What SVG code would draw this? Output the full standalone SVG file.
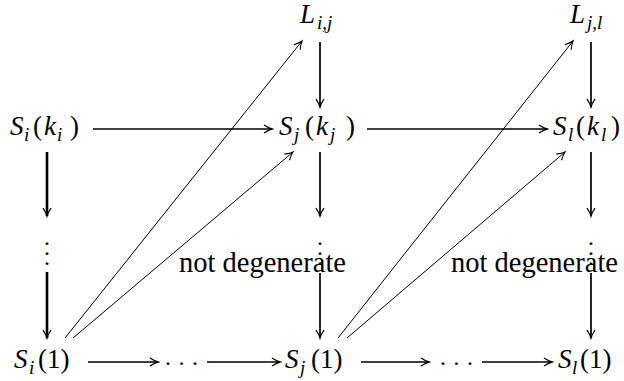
<svg xmlns="http://www.w3.org/2000/svg" width="624" height="381" viewBox="0 0 624 381" font-family="Liberation Serif">
<defs>
<marker id="ah" markerUnits="userSpaceOnUse" viewBox="-10 -6 12 12" markerWidth="12" markerHeight="12" refX="0" refY="0" orient="auto">
<path d="M-8,-4 Q-3,-0.8 0,0 Q-3,0.8 -8,4" stroke="#000" stroke-width="1.3" fill="none"/>
</marker>
<marker id="ahd" markerUnits="userSpaceOnUse" viewBox="-10 -6 12 12" markerWidth="12" markerHeight="12" refX="0" refY="0" orient="auto">
<path d="M-8,-4 Q-3,-0.8 0,0 Q-3,0.8 -8,4" stroke="#000" stroke-width="1.1" fill="none"/>
</marker>
</defs>
<g id="connectors" stroke="#000" fill="none">
<g stroke-width="2.6" marker-end="url(#ah)">
<line x1="47" y1="152" x2="47" y2="216"/>
<line x1="47" y1="272" x2="47" y2="338"/>
</g>
<g stroke-width="1.7" marker-end="url(#ah)">
<line x1="320" y1="42" x2="320" y2="107"/>
<line x1="320" y1="152" x2="320" y2="216"/>
<line x1="320" y1="273" x2="320" y2="338"/>
<line x1="591" y1="42" x2="591" y2="107"/>
<line x1="591" y1="152" x2="591" y2="216"/>
<line x1="591" y1="273" x2="591" y2="338"/>
<line x1="93" y1="129" x2="272" y2="129"/>
<line x1="367" y1="129" x2="547" y2="129"/>
<line x1="88" y1="362" x2="158" y2="362"/>
<line x1="207" y1="362" x2="280" y2="362"/>
<line x1="361" y1="362" x2="429" y2="362"/>
<line x1="482" y1="362" x2="552" y2="362"/>
</g>
<g stroke-width="1" marker-end="url(#ahd)">
<line x1="65" y1="338" x2="302" y2="41"/>
<line x1="73" y1="338" x2="293" y2="152"/>
<line x1="338" y1="338" x2="573" y2="41"/>
<line x1="347" y1="338" x2="565" y2="152"/>
</g>
</g>
<g id="L_ij" font-style="italic">
<text x="300" y="23" font-size="27">L</text>
<text x="317" y="29" font-size="19">i,j</text>
</g>
<g id="L_jl" font-style="italic">
<text x="570" y="23" font-size="27">L</text>
<text x="587" y="29" font-size="19">j,l</text>
</g>
<g id="S_i_ki" font-size="27">
<text x="10" y="135" font-style="italic">S</text>
<text x="24" y="141" font-size="19" font-style="italic">i</text>
<text x="33" y="135">(</text>
<text x="44" y="135" font-style="italic">k</text>
<text x="57" y="141" font-size="19" font-style="italic">i</text>
<text x="70" y="135">)</text>
</g>
<g id="S_j_kj" font-size="27">
<text x="279" y="135" font-style="italic">S</text>
<text x="294" y="141" font-size="19" font-style="italic">j</text>
<text x="305" y="135">(</text>
<text x="316" y="135" font-style="italic">k</text>
<text x="330" y="141" font-size="19" font-style="italic">j</text>
<text x="346" y="135">)</text>
</g>
<g id="S_l_kl" font-size="27">
<text x="553" y="135" font-style="italic">S</text>
<text x="568" y="141" font-size="19" font-style="italic">l</text>
<text x="576" y="135">(</text>
<text x="587" y="135" font-style="italic">k</text>
<text x="601" y="141" font-size="19" font-style="italic">l</text>
<text x="611" y="135">)</text>
</g>
<g id="vdots_i" font-size="24" text-anchor="middle">
<text x="47" y="245">.</text><text x="47" y="255">.</text><text x="47" y="265">.</text>
</g>
<g id="vdots_j" font-size="24" text-anchor="middle">
<text x="320" y="245">.</text><text x="320" y="255">.</text><text x="320" y="265">.</text>
</g>
<g id="vdots_l" font-size="24" text-anchor="middle">
<text x="591" y="245">.</text><text x="591" y="255">.</text><text x="591" y="265">.</text>
</g>
<g id="label1"><text x="179" y="272" font-size="28.5">not degenerate</text></g>
<g id="label2"><text x="451" y="272" font-size="28.5">not degenerate</text></g>
<g id="S_i_1" font-size="27">
<text x="14" y="368" font-style="italic">S</text>
<text x="29" y="374" font-size="19" font-style="italic">i</text>
<text x="38" y="368">(1)</text>
</g>
<g id="cdots1"><text x="165" y="365" font-size="24" letter-spacing="7.5">...</text></g>
<g id="S_j_1" font-size="27">
<text x="285" y="368" font-style="italic">S</text>
<text x="300" y="374" font-size="19" font-style="italic">j</text>
<text x="311" y="368">(1)</text>
</g>
<g id="cdots2"><text x="440" y="365" font-size="24" letter-spacing="7.5">...</text></g>
<g id="S_l_1" font-size="27">
<text x="558" y="368" font-style="italic">S</text>
<text x="572" y="374" font-size="19" font-style="italic">l</text>
<text x="580" y="368">(1)</text>
</g>
</svg>
